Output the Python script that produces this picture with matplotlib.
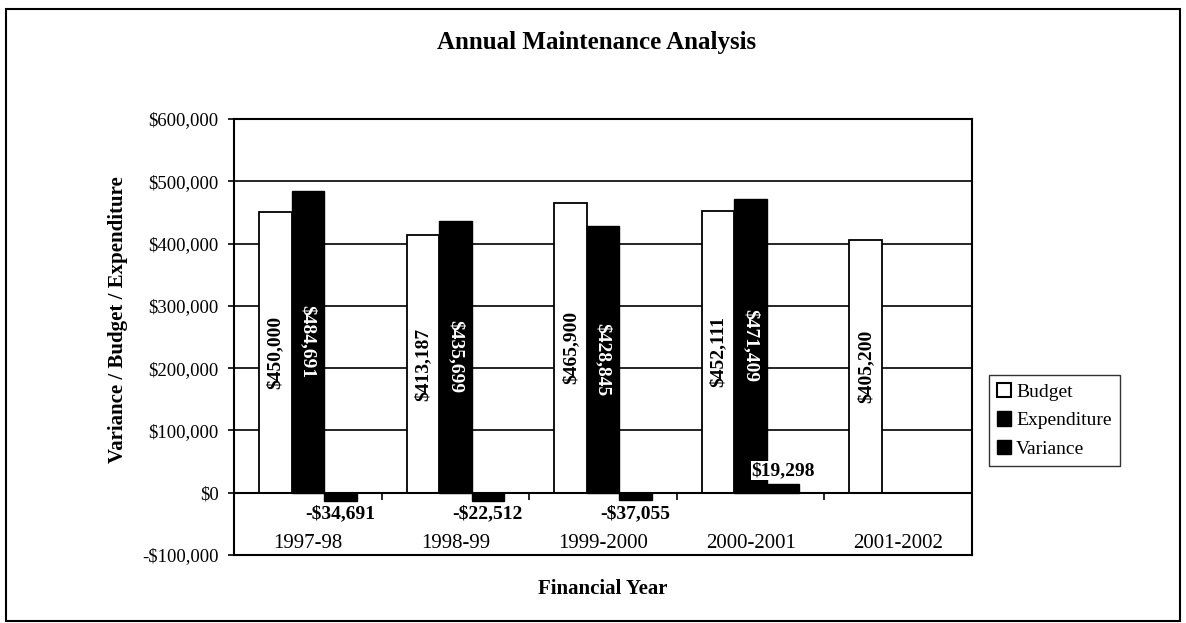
import matplotlib
matplotlib.use("Agg")
import matplotlib.pyplot as plt
from matplotlib.patches import Rectangle, Patch
from matplotlib.ticker import FuncFormatter
import numpy as np

# ---- data ----
years = ["1997-98", "1998-99", "1999-2000", "2000-2001", "2001-2002"]
budget = [450000, 413187, 465900, 452111, 405200]
expenditure = [484691, 435699, 428845, 471409, np.nan]
# variance as printed in the data labels
variance_labels = [-34691, -22512, -37055, 19298, np.nan]
# variance bar heights as actually drawn in the picture
variance_bars = [-13000, -13000, -12000, 14500, np.nan]
y_ticks = [-100000, 0, 100000, 200000, 300000, 400000, 500000, 600000]

plt.rcParams['font.family'] = ['Liberation Serif', 'DejaVu Serif']

W, H = 1186, 623
fig = plt.figure(figsize=(W / 100, H / 100), dpi=100)
ax = fig.add_axes([234 / W, 1 - 555 / H, (972 - 234) / W, (555 - 119) / H])

x = np.arange(len(years))
bw = 0.22

ax.set_xlim(-0.5, len(years) - 0.5)
ax.set_ylim(y_ticks[0], y_ticks[-1])

# grid
ax.set_yticks(y_ticks)
ax.yaxis.grid(True, color='black', lw=1.2, zorder=0)
ax.set_axisbelow(True)

def money(v, pos=None):
    v = int(round(v))
    return ("-$" if v < 0 else "$") + f"{abs(v):,}"

ax.yaxis.set_major_formatter(FuncFormatter(money))
ax.tick_params(axis='y', direction='out', length=4, width=1.2, pad=7,
               labelsize=13.5)
ax.set_xticks([])
for s in ax.spines.values():
    s.set_linewidth(1.5)

# bars
b1 = ax.bar(x - bw, budget, bw, color='white', edgecolor='black', lw=1.3, zorder=2)
b2 = ax.bar(x, expenditure, bw, color='black', edgecolor='black', lw=1.0, zorder=2)
b3 = ax.bar(x + bw, variance_bars, bw, color='black', edgecolor='black', lw=1.0, zorder=2)

# zero / category axis
yfrac0 = (0 - y_ticks[0]) / (y_ticks[-1] - y_ticks[0])
ax.axhline(0, color='black', lw=1.5, zorder=3)
sec = ax.secondary_xaxis(yfrac0)
sec.set_xticks(np.arange(len(years) - 1) + 0.5)
sec.set_xticklabels([])
sec.tick_params(direction='out', length=5, width=1.2)
sec.spines['bottom'].set_visible(False)

# category labels (sit inside the plot area, below the zero line)
for xi, name in zip(x, years):
    ax.text(xi, -82000, name, ha='center', va='center', fontsize=15)

# data labels
for xi, v in zip(x, budget):
    ax.text(xi - bw, v / 2, money(v), rotation=90, ha='center', va='center',
            fontsize=14, fontweight='bold', color='black', zorder=4)
for xi, v in zip(x, expenditure):
    if np.isnan(v):
        continue
    ax.text(xi, v / 2, money(v), rotation=-90, ha='center', va='center',
            fontsize=14, fontweight='bold', color='white', zorder=4)
for xi, h, v in zip(x, variance_bars, variance_labels):
    if np.isnan(v):
        continue
    off = 9.5 if h > 0 else -9.5
    kw = {}
    if h > 0:
        kw['bbox'] = dict(facecolor='white', edgecolor='none', pad=0.5)
    ax.annotate(money(v), (xi + bw, h), xytext=(0, off), textcoords='offset points',
                ha='center', va='center', fontsize=14, fontweight='bold', zorder=5, **kw)

# titles
fig.text(597 / W, 1 - 43 / H, "Annual Maintenance Analysis", ha='center', va='center',
         fontsize=18, fontweight='bold')
fig.text(603 / W, 1 - 589 / H, "Financial Year", ha='center', va='center',
         fontsize=15, fontweight='bold')
ax.set_ylabel("Variance / Budget / Expenditure", fontsize=15, fontweight='bold')
ax.yaxis.set_label_coords(-0.143, 0.54)

# legend
handles = [Patch(facecolor='white', edgecolor='black', lw=1.5),
           Patch(facecolor='black', edgecolor='black'),
           Patch(facecolor='black', edgecolor='black')]
leg = fig.legend(handles, ["Budget", "Expenditure", "Variance"], loc='upper left',
                 bbox_to_anchor=(989 / W, 1 - 375 / H), bbox_transform=fig.transFigure,
                 borderaxespad=0, fontsize=14, frameon=True, fancybox=False,
                 handlelength=0.75, handleheight=0.75, handletextpad=0.25,
                 labelspacing=0.55, borderpad=0.4)
leg.get_frame().set_edgecolor('black')
leg.get_frame().set_linewidth(1.0)

# outer chart border
fig.patches.append(Rectangle((6 / W, 2 / H), (1180 - 6) / W, (614 - 2) / H,
                             transform=fig.transFigure, fill=False,
                             edgecolor='black', lw=1.5))

fig.savefig("out.png", dpi=100)
